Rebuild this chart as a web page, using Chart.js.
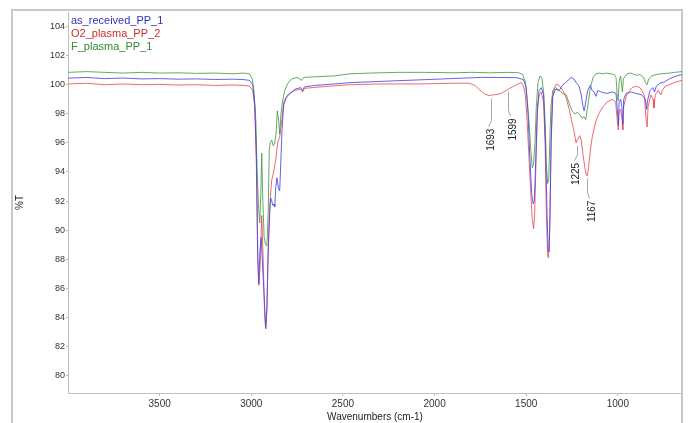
<!DOCTYPE html>
<html>
<head>
<meta charset="utf-8">
<script src="https://cdn.jsdelivr.net/npm/chart.js@4.4.1/dist/chart.umd.min.js"></script>
<style>
  body { margin: 0; background: #fff; }
</style>
</head>
<body>
<canvas id="irChart" width="688" height="423"></canvas>
<script>
// 凡例ラベル
const seriesNames = ['as_received_PP_1', 'O2_plasma_PP_2', 'F_plasma_PP_1'];

// 目盛り
const xTickLabels = [3500, 3000, 2500, 2000, 1500, 1000];
const yTickLabels = [80, 82, 84, 86, 88, 90, 92, 94, 96, 98, 100, 102, 104];

// ピークラベル (O2_plasma_PP_2)
const peakLabels = [1693, 1599, 1225, 1167];

// スペクトル [波数, %T]
const asReceived = [
  [4000,100.45],[3900,100.5],[3800,100.42],[3700,100.46],[3600,100.4],[3500,100.42],[3400,100.38],
  [3300,100.4],[3200,100.36],[3100,100.38],[3040,100.35],[3010,100.3],[2992,100.0],[2981,98.6],
  [2972,95],[2964,88],[2959,86.3],[2953,88.5],[2946,89.5],[2940,88],[2932,86],[2926,84.5],
  [2921,83.3],[2915,84.5],[2908,88.5],[2900,91],[2894,92.2],[2888,92],[2883,91.7],[2876,91.8],
  [2872,91.6],[2866,93],[2860,93.6],[2852,92.9],[2845,92.7],[2838,95],[2832,97],[2823,98.6],
  [2810,99.1],[2790,99.4],[2760,99.7],[2730,99.8],[2720,99.6],[2710,99.85],[2650,99.95],
  [2550,100.05],[2450,100.15],[2350,100.2],[2250,100.25],[2150,100.3],[2050,100.35],[1950,100.4],
  [1850,100.45],[1750,100.5],[1650,100.5],[1550,100.48],[1515,100.35],[1500,99.8],[1490,98],
  [1480,95],[1470,92.5],[1462,91.8],[1456,92],[1450,94],[1440,98],[1430,99.6],[1418,99.8],
  [1405,99.3],[1395,96],[1386,91],[1380,88.6],[1375,88.5],[1370,91],[1364,96],[1355,99.2],
  [1340,99.7],[1320,99.6],[1300,100],[1280,100.2],[1255,100.5],[1240,100.4],[1225,100.1],
  [1211,99.9],[1200,99.3],[1190,98.5],[1184,98.2],[1178,98.6],[1165,99.6],[1150,99.95],
  [1140,99.6],[1130,99.5],[1119,99.2],[1110,99.6],[1090,99.5],[1060,99.4],[1030,99.5],
  [1010,99.4],[1000,97.8],[997,97.2],[993,98.8],[985,99],[978,98.5],[973,97.3],[968,99],
  [955,99.4],[930,99.5],[900,99.4],[870,99.3],[850,99],[843,98.3],[838,98.9],[825,99.6],
  [808,99.8],[800,99.5],[790,99.9],[770,100.1],[745,100.2],[720,100.4],[700,100.5],[680,100.6],
  [650,100.7]
];
const o2Plasma = [
  [4000,100.05],[3900,100.1],[3800,100.0],[3700,100.05],[3600,100.0],[3500,100.02],[3400,99.98],
  [3300,100.0],[3200,99.95],[3100,99.98],[3040,99.95],[3010,99.9],[2992,99.6],[2981,98.5],
  [2973,95],[2965,88],[2959,86.2],[2952,87.5],[2943,91],[2935,88],[2927,84],[2921,83.2],
  [2915,84.5],[2908,88.5],[2900,91.5],[2889,93.4],[2878,94],[2867,94.8],[2856,96],[2845,96.4],
  [2834,97.5],[2823,98.8],[2802,99.3],[2764,99.6],[2730,99.7],[2720,99.5],[2709,99.75],
  [2573,99.9],[2464,100.0],[2300,100.05],[2100,100.05],[1900,100.1],[1810,100.1],[1780,99.95],
  [1750,99.6],[1725,99.35],[1702,99.25],[1680,99.3],[1650,99.35],[1630,99.45],[1609,99.6],
  [1590,99.75],[1560,99.95],[1527,100.15],[1515,99.9],[1505,99.3],[1495,97.5],[1485,95],
  [1475,92.5],[1467,90.8],[1460,90.1],[1454,91],[1446,95],[1438,98.5],[1429,99.3],[1418,99.5],
  [1405,98.8],[1397,96],[1390,91],[1383,88.2],[1378,88.1],[1372,90],[1365,95.5],[1358,99],
  [1347,99.8],[1335,100.05],[1320,99.95],[1300,99.6],[1282,99.1],[1265,98.3],[1250,97.4],
  [1239,96.8],[1228,96.0],[1218,96.3],[1208,96.5],[1200,96.2],[1190,95.2],[1180,94.3],
  [1172,93.8],[1166,93.75],[1160,94.3],[1150,95.5],[1140,96.4],[1120,97.5],[1100,98.1],
  [1086,98.4],[1060,98.8],[1031,99.0],[1012,98.8],[1003,97.5],[998,96.9],[993,98.2],[985,98.3],
  [977,97.6],[973,96.9],[968,98.5],[955,99.2],[940,99.5],[923,99.8],[900,99.9],[880,99.8],
  [868,99.6],[855,99.2],[846,97.6],[840,97.1],[835,98.5],[820,99.3],[808,99.0],[803,98.4],
  [796,99.3],[780,99.6],[765,99.3],[758,99.6],[740,99.9],[720,100.0],[700,100.1],[680,100.2],
  [650,100.3]
];
const fPlasma = [
  [4000,100.85],[3900,100.9],[3800,100.85],[3700,100.8],[3600,100.85],[3500,100.8],[3400,100.82],
  [3300,100.78],[3200,100.8],[3100,100.75],[3040,100.8],[3010,100.75],[2995,100.4],[2985,99.5],
  [2975,97.5],[2968,94],[2960,91.5],[2954,90.5],[2948,92.5],[2943,95.3],[2937,92],[2930,89.5],
  [2922,89],[2915,88.9],[2908,91],[2902,95.5],[2897,96],[2889,96.2],[2880,95.8],[2872,96],
  [2865,96.6],[2858,98.2],[2850,97.5],[2845,96.6],[2838,98],[2830,98.8],[2818,99.6],[2800,100.1],
  [2780,100.4],[2750,100.5],[2725,100.3],[2715,100.5],[2650,100.55],[2550,100.6],[2464,100.75],
  [2350,100.8],[2200,100.85],[2050,100.85],[1900,100.82],[1800,100.85],[1700,100.82],[1600,100.85],
  [1540,100.82],[1520,100.7],[1505,100.2],[1495,99],[1485,97.5],[1475,95.5],[1467,94.3],
  [1460,94.5],[1452,96],[1445,98.5],[1435,100.2],[1425,100.6],[1415,100.5],[1405,99.5],
  [1397,97.5],[1390,94.5],[1383,93.2],[1377,93.5],[1372,95.8],[1365,98.5],[1355,99.6],
  [1340,99.8],[1320,99.6],[1300,99.4],[1282,99.3],[1265,98.7],[1250,98.2],[1235,98.0],
  [1220,98.1],[1205,97.9],[1195,97.7],[1185,97.8],[1175,97.6],[1168,98.2],[1160,98.9],
  [1150,99.8],[1135,100.5],[1120,100.75],[1100,100.8],[1086,100.75],[1060,100.8],[1040,100.75],
  [1020,100.7],[1010,100.5],[1003,99.2],[998,98.9],[993,100.2],[985,100.6],[975,99.5],[970,100.4],
  [950,100.75],[930,100.8],[900,100.65],[880,100.7],[860,100.5],[848,100.1],[840,100.0],
  [832,100.4],[815,100.6],[790,100.7],[760,100.75],[720,100.8],[690,100.85],[650,100.9]
];

const toPoints = arr => arr.map(p => ({ x: p[0], y: p[1] }));

// 外枠
const framePlugin = {
  id: 'frame',
  beforeDraw(chart) {
    const ctx = chart.ctx;
    ctx.save();
    ctx.fillStyle = '#fff';
    ctx.fillRect(0, 0, chart.width, chart.height);
    ctx.strokeStyle = '#c8c8c8';
    ctx.lineWidth = 2;
    ctx.strokeRect(12, 10, 670, 430);
    ctx.restore();
  }
};

// 凡例 (テキストのみ)
const textLegend = {
  id: 'textLegend',
  afterDraw(chart) {
    const ctx = chart.ctx;
    const area = chart.chartArea;
    ctx.save();
    ctx.font = '11px "Liberation Sans", Arial, sans-serif';
    ctx.textBaseline = 'middle';
    chart.data.datasets.forEach((ds, i) => {
      ctx.fillStyle = ds.textColor;
      ctx.fillText(ds.label, area.left + 3, 21 + i * 13);
    });
    ctx.restore();
  }
};

// ピークラベル
const peakLabelPlugin = {
  id: 'peakLabels',
  afterDatasetsDraw(chart) {
    const ctx = chart.ctx;
    const xs = chart.scales.x, ys = chart.scales.y;
    const drops = [33, 30, 20, 25];
    const shifts = [0, 5, 0, 5];
    ctx.save();
    ctx.font = '10px "Liberation Sans", Arial, sans-serif';
    peakLabels.forEach((wn, i) => {
      let best = o2Plasma[0];
      o2Plasma.forEach(p => { if (Math.abs(p[0] - wn) < Math.abs(best[0] - wn)) best = p; });
      const px = xs.getPixelForValue(wn);
      const py = ys.getPixelForValue(best[1]);
      const textTop = py + drops[i];
      ctx.strokeStyle = '#a8a8a8';
      ctx.lineWidth = 1;
      ctx.beginPath();
      ctx.moveTo(Math.round(px) + 0.5, py + 3);
      ctx.lineTo(Math.round(px) + 0.5, textTop - 8);
      ctx.lineTo(Math.round(px + shifts[i] - 3) + 0.5, textTop - 2);
      ctx.stroke();
      ctx.translate(px + shifts[i], textTop);
      ctx.rotate(-Math.PI / 2);
      ctx.fillStyle = '#222';
      ctx.textAlign = 'right';
      ctx.textBaseline = 'middle';
      ctx.fillText(String(wn), 0, 0);
      ctx.setTransform(1, 0, 0, 1, 0, 0);
    });
    ctx.restore();
  }
};

const tickFont = { family: '"Liberation Sans", Arial, sans-serif', size: 9 };

let irCtx = document.getElementById('irChart');
let irConfig = {
  type: 'line',
  data: {
    datasets: [{
      label: seriesNames[0],
      data: toPoints(asReceived),
      borderColor: 'rgba(70, 70, 230, 0.85)',
      textColor: '#3030b8',
    }, {
      label: seriesNames[1],
      data: toPoints(o2Plasma),
      borderColor: 'rgba(235, 70, 70, 0.8)',
      textColor: '#d42c2c',
    }, {
      label: seriesNames[2],
      data: toPoints(fPlasma),
      borderColor: 'rgba(60, 150, 60, 0.8)',
      textColor: '#2f8a2f',
    }],
  },
  options: {
    responsive: false,
    animation: false,
    elements: {
      line: { borderWidth: 1, tension: 0 },
      point: { radius: 0 }
    },
    layout: { padding: { left: 0, right: 6, top: 12, bottom: 0 } },
    plugins: {
      legend: { display: false },
      tooltip: { enabled: false }
    },
    scales: {
      x: {
        type: 'linear',
        reverse: true,
        min: 650,
        max: 4000,
        afterBuildTicks: s => { s.ticks = xTickLabels.map(v => ({ value: v })); },
        afterFit: s => { s.height = 30; },
        ticks: {
          font: { family: '"Liberation Sans", Arial, sans-serif', size: 10 },
          color: '#333', padding: 2, maxRotation: 0, autoSkip: false,
          callback: v => String(v)
        },
        grid: { drawOnChartArea: false, tickLength: 3, color: '#bbb' },
        border: { color: '#c0c0c0' },
        title: {
          display: true,
          text: 'Wavenumbers (cm-1)',
          font: { family: '"Liberation Sans", Arial, sans-serif', size: 10 },
          color: '#222',
          padding: { top: 0, bottom: 0 }
        }
      },
      y: {
        min: 78.8,
        max: 105,
        afterBuildTicks: s => { s.ticks = yTickLabels.map(v => ({ value: v })); },
        afterFit: s => { s.width = 68; },
        ticks: { font: tickFont, color: '#333', padding: 1, callback: v => String(v) },
        grid: { drawOnChartArea: false, tickLength: 2, color: '#bbb' },
        border: { color: '#c0c0c0' },
        title: {
          display: true,
          text: '%T',
          font: { family: '"Liberation Sans", Arial, sans-serif', size: 10 },
          color: '#222',
          padding: { top: 14, bottom: 0 }
        }
      }
    }
  },
  plugins: [framePlugin, textLegend, peakLabelPlugin]
};
let irChart = new Chart(irCtx, irConfig);
</script>
</body>
</html>
